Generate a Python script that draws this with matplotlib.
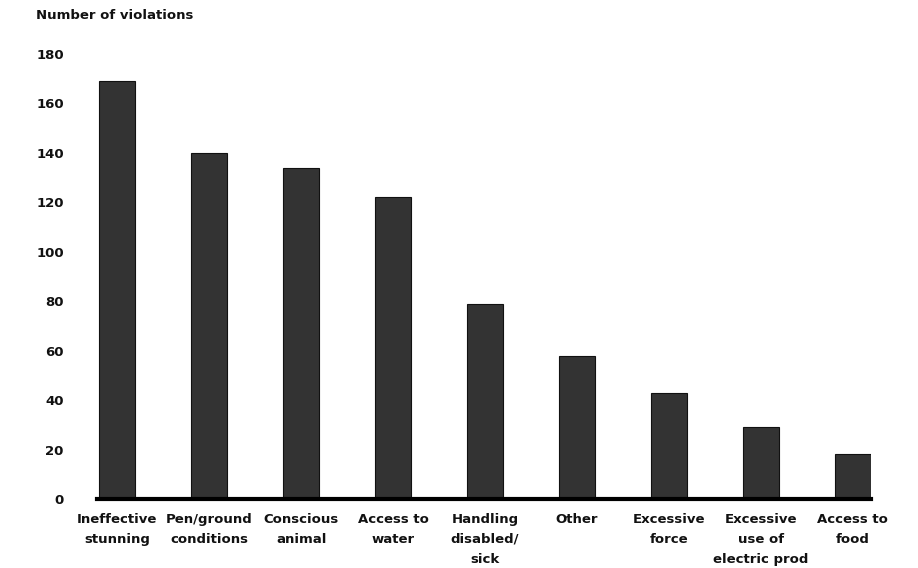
import numpy as np
import matplotlib.pyplot as plt

plt.rcParams['font.family'] = ['DejaVu Sans']

categories = ['Ineffective\nstunning', 'Pen/ground\nconditions', 'Conscious\nanimal',
              'Access to\nwater', 'Handling\ndisabled/\nsick', 'Other',
              'Excessive\nforce', 'Excessive\nuse of\nelectric prod', 'Access to\nfood']
violations = [169, 140, 134, 122, 79, 58, 43, 29, 18]
yticks = [0, 20, 40, 60, 80, 100, 120, 140, 160, 180]

fig = plt.figure(figsize=(9.18, 5.68), dpi=100)
ax = fig.add_axes([0.1057, 0.1215, 0.8433, 0.7835])

x = np.arange(len(categories))
ax.bar(x, violations, width=0.39, color='#333333', edgecolor='#111111', linewidth=0.8)

ax.set_xlim(-0.22, 8.2)
ax.set_ylim(0, 180)
ax.set_yticks(yticks)
ax.set_xticks(x)
ax.set_xticklabels(categories, fontsize=9.5, fontweight='bold', linespacing=1.7,
                   color='#111111')
ax.tick_params(axis='y', labelsize=9.5, length=0, pad=24, labelcolor='#111111')
ax.tick_params(axis='x', length=0, pad=10)
for lbl in ax.get_yticklabels():
    lbl.set_fontweight('bold')

for s in ['top', 'right', 'left']:
    ax.spines[s].set_visible(False)
ax.spines['bottom'].set_linewidth(3)
ax.spines['bottom'].set_color('black')

fig.text(0.039, 0.972, 'Number of violations', fontsize=9.5, fontweight='bold',
         va='center', color='#111111')

fig.savefig('out.png', dpi=100)
